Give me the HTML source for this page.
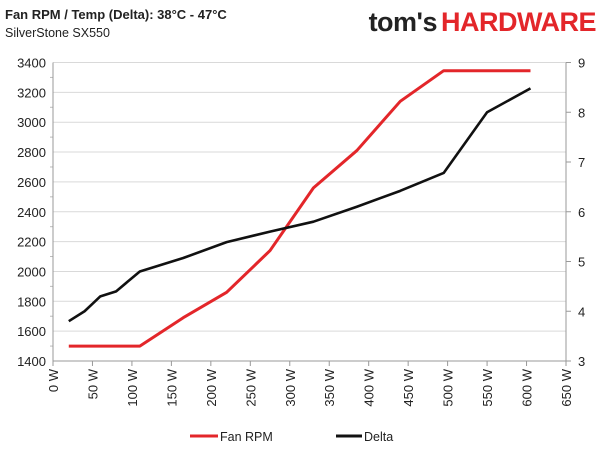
<!DOCTYPE html>
<html><head><meta charset="utf-8"><style>
body{margin:0;background:#fff;}
svg text{font-family:"Liberation Sans",sans-serif;}
</style></head><body>
<svg width="600" height="450" viewBox="0 0 600 450" xmlns="http://www.w3.org/2000/svg">
<text x="5" y="19" font-size="13" font-weight="bold" fill="#222">Fan RPM / Temp (Delta): 38°C - 47°C</text>
<text x="5" y="37" font-size="12.5" fill="#222">SilverStone SX550</text>
<text x="596" y="31" text-anchor="end" font-size="27" font-weight="bold" letter-spacing="-0.5"><tspan fill="#222">tom's</tspan><tspan fill="#e3262a" dx="4">HARDWARE</tspan></text>
<g id="grid"></g><g id="axes"></g><g id="series"></g>
<g>
<line x1="190" y1="436" x2="218" y2="436" stroke="#e3262a" stroke-width="3"/>
<text x="220" y="441" font-size="12.5" fill="#222">Fan RPM</text>
<line x1="336" y1="436" x2="362" y2="436" stroke="#111" stroke-width="3"/>
<text x="364" y="441" font-size="12.5" fill="#222">Delta</text>
</g>
</svg>
<script>
const loads=[20,40,50,60,80,110,165,220,275,330,385,440,495,550,605];
const fanLoads=[20,110,165,220,275,330,385,440,495,605];
const fanRpm=[1500,1500,1690,1860,2140,2560,2810,3140,3345,3345];
const delta=[3.8,4.0,4.15,4.3,4.4,4.8,5.07,5.39,5.6,5.8,6.1,6.42,6.78,8.0,8.48];
const leftTicks=[1400,1600,1800,2000,2200,2400,2600,2800,3000,3200,3400];
const rightTicks=[3,4,5,6,7,8,9];
const xTicks=[0,50,100,150,200,250,300,350,400,450,500,550,600,650];
const X0=53,X1=566,Y0=361,Y1=62.5;
const x=w=>X0+(w-0)/650*(X1-X0);
const yL=v=>Y0-(v-1400)/2000*(Y0-Y1);
const yR=v=>Y0-(v-3)/6*(Y0-Y1);
const NS='http://www.w3.org/2000/svg';
function mk(tag,attrs,parent){const e=document.createElementNS(NS,tag);for(const k in attrs)e.setAttribute(k,attrs[k]);parent.appendChild(e);return e;}
const grid=document.getElementById('grid'),axes=document.getElementById('axes'),series=document.getElementById('series');
leftTicks.forEach(v=>{
 const g=mk('line',{x1:X0,x2:X1,y1:yL(v),y2:yL(v),stroke:'#d9d9d9','stroke-width':1},grid);
 
 
 const t=mk('text',{x:X0-7,y:yL(v)+5,'text-anchor':'end','font-size':13,fill:'#222'},axes);
 t.textContent=v;
 
 
 if(v<3400){const m=mk('line',{x1:X0-3,x2:X0,y1:yL(v+100),y2:yL(v+100),stroke:'#bbb'},axes);
 
 }
});
rightTicks.forEach(v=>{
 const m=mk('line',{x1:X1,x2:X1+5,y1:yR(v),y2:yR(v),stroke:'#999'},axes);
 
 
 const t=mk('text',{x:X1+12,y:yR(v)+5,'font-size':13,fill:'#222'},axes);
 t.textContent=v;
 
 
});
const la=mk('line',{x1:X0,x2:X0,y1:Y1,y2:Y0,stroke:'#999'},axes);


const ra=mk('line',{x1:X1,x2:X1,y1:Y1,y2:Y0,stroke:'#999'},axes);


const xa=mk('line',{x1:X0,x2:X1,y1:Y0,y2:Y0,stroke:'#999'},axes);


xTicks.forEach(w=>{
 const m=mk('line',{x1:x(w),x2:x(w),y1:Y0,y2:Y0+5,stroke:'#999'},axes);
 
 
 const t=mk('text',{x:0,y:0,'text-anchor':'end','font-size':13,fill:'#222',transform:`translate(${x(w)+5},${Y0+8}) rotate(-90)`},axes);
 t.textContent=w+' W';
 
 
});
const p1=mk('polyline',{points:fanLoads.map((w,i)=>x(w)+','+yL(fanRpm[i])).join(' '),fill:'none',stroke:'#e3262a','stroke-width':3,'stroke-linejoin':'round'},series);


const p2=mk('polyline',{points:loads.map((w,i)=>x(w)+','+yR(delta[i])).join(' '),fill:'none',stroke:'#111','stroke-width':2.6,'stroke-linejoin':'round'},series);


</script>
</body></html>
